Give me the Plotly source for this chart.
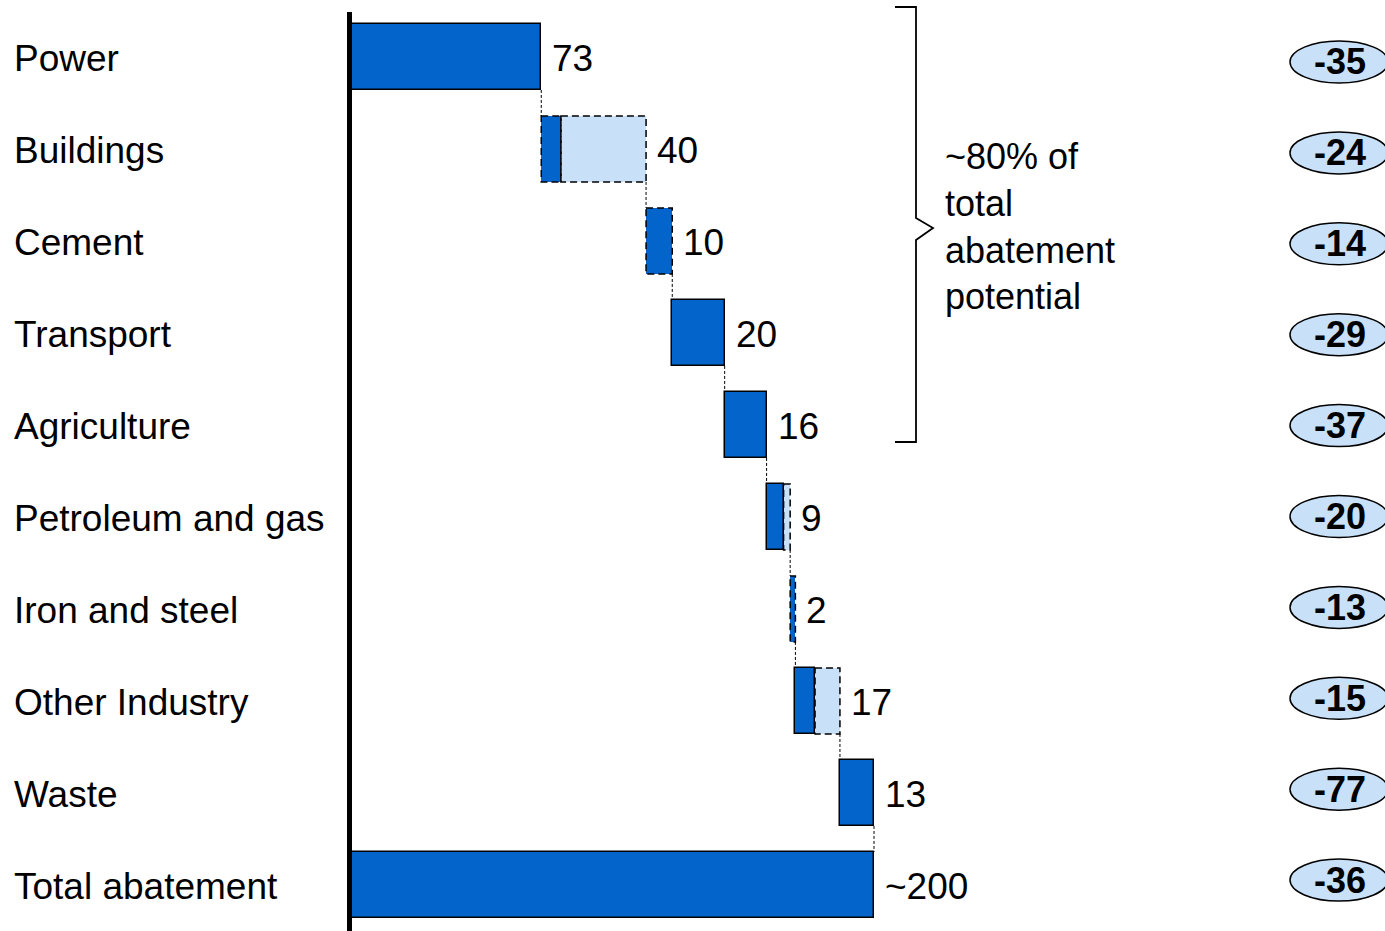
import plotly.graph_objects as go

# Abatement potential by sector (waterfall) and change figures per sector
categories = ["Power", "Buildings", "Cement", "Transport", "Agriculture",
              "Petroleum and gas", "Iron and steel", "Other Industry", "Waste",
              "Total abatement"]
values = [73, 40, 10, 20, 16, 9, 2, 17, 13, 200]
value_labels = ["73", "40", "10", "20", "16", "9", "2", "17", "13", "~200"]
# dark (firm) share of each bar; the remainder is drawn light with a dashed edge
firm_part = [73, 7.5, 10, 20, 16, 6.5, 2, 7.5, 13, 200]
firm_dashed = [False, True, True, False, False, False, True, False, False, False]
change_values = [-35, -24, -14, -29, -37, -20, -13, -15, -77, -36]
bracket_text = "~80% of<br>total<br>abatement<br>potential"

DARK = "rgb(3,100,204)"
LIGHT = "rgb(200,224,248)"
FONT = "Liberation Sans, Arial, sans-serif"

W, H = 1385, 931
ML, MT = 350, 11
PW, PH = W - ML, H - MT
UNIT_PX = 2.62
HALF = 0.358  # half bar thickness in row units


def px(xp):
    return (xp - ML) / PW


def py(yp):
    return 1 - (yp - MT) / PH


n = len(categories)
idx = list(range(n))
bases = []
run = 0
for i, v in enumerate(values):
    if i == n - 1:
        bases.append(0)
    else:
        bases.append(run)
        run += v
ends = [b + v for b, v in zip(bases, values)]
light_part = [v - f for v, f in zip(values, firm_part)]

fig = go.Figure()
fig.add_trace(go.Bar(
    orientation="h", y=idx, x=firm_part, base=bases, width=2 * HALF,
    marker=dict(color=DARK,
                line=dict(color="black", width=[0 if d else 1.5 for d in firm_dashed])),
    hoverinfo="skip", showlegend=False))
fig.add_trace(go.Bar(
    orientation="h", y=idx, x=light_part,
    base=[b + f for b, f in zip(bases, firm_part)], width=2 * HALF,
    marker=dict(color=LIGHT, line=dict(width=0)),
    hoverinfo="skip", showlegend=False))

shapes = []
DASH = "7px,4px"
for i in idx:
    if firm_dashed[i]:
        shapes.append(dict(type="rect", xref="x", yref="y",
                           x0=bases[i], x1=bases[i] + firm_part[i],
                           y0=i - HALF, y1=i + HALF,
                           line=dict(color="black", width=1.5, dash=DASH)))
    if light_part[i] > 0:
        shapes.append(dict(type="rect", xref="x", yref="y",
                           x0=bases[i] + firm_part[i], x1=ends[i],
                           y0=i - HALF, y1=i + HALF,
                           line=dict(color="black", width=1.5, dash=DASH)))

# thin connectors between consecutive bars
for i in range(n - 1):
    shapes.append(dict(type="line", xref="x", yref="y",
                       x0=ends[i], x1=ends[i], y0=i + HALF, y1=i + 1 - HALF,
                       line=dict(color="black", width=1, dash="3px,2px")))

# heavy baseline on the left
shapes.append(dict(type="line", xref="paper", yref="paper",
                   x0=px(349.5), x1=px(349.5), y0=py(12), y1=py(931),
                   line=dict(color="black", width=5)))

# bracket grouping the first five sectors
pts = [(895, 7), (916, 7), (916, 218), (933, 228), (916, 240), (916, 442), (895, 442)]
path = "M " + " L ".join(f"{px(a):.5f},{py(b):.5f}" for a, b in pts)
shapes.append(dict(type="path", xref="paper", yref="paper", path=path,
                   line=dict(color="black", width=1.8)))

annotations = []
for i in idx:
    annotations.append(dict(xref="paper", yref="y", x=px(12), y=i, yshift=-1,
                            xanchor="left", yanchor="middle", showarrow=False,
                            text=categories[i],
                            font=dict(family=FONT, size=37, color="black")))
    annotations.append(dict(xref="x", yref="y", x=ends[i], y=i, xshift=9, yshift=-1,
                            xanchor="left", yanchor="middle", showarrow=False,
                            text=value_labels[i],
                            font=dict(family=FONT, size=37, color="black")))

# change markers on the right
for i, c in enumerate(change_values):
    cy = 62 + i * 90.9
    shapes.append(dict(type="circle", xref="paper", yref="paper",
                       x0=px(1290), x1=px(1388), y0=py(cy + 21), y1=py(cy - 21),
                       fillcolor=LIGHT, line=dict(color="black", width=1.5)))
    annotations.append(dict(xref="paper", yref="paper", x=px(1340), y=py(cy),
                            xanchor="center", yanchor="middle", showarrow=False,
                            text=f"<b>{c}</b>",
                            font=dict(family=FONT, size=36, color="black")))

annotations.append(dict(xref="paper", yref="paper", x=px(943), y=py(226),
                        xanchor="left", yanchor="middle", align="left",
                        showarrow=False, text=bracket_text,
                        font=dict(family=FONT, size=36, color="black")))

fig.update_layout(
    width=W, height=H,
    margin=dict(l=ML, r=0, t=MT, b=0),
    paper_bgcolor="white", plot_bgcolor="white",
    barmode="overlay", bargap=0,
    xaxis=dict(range=[0, PW / UNIT_PX], visible=False, fixedrange=True),
    yaxis=dict(range=[n - 0.5, -0.5], visible=False, fixedrange=True),
    shapes=shapes, annotations=annotations,
)

fig.write_html("out.html")
